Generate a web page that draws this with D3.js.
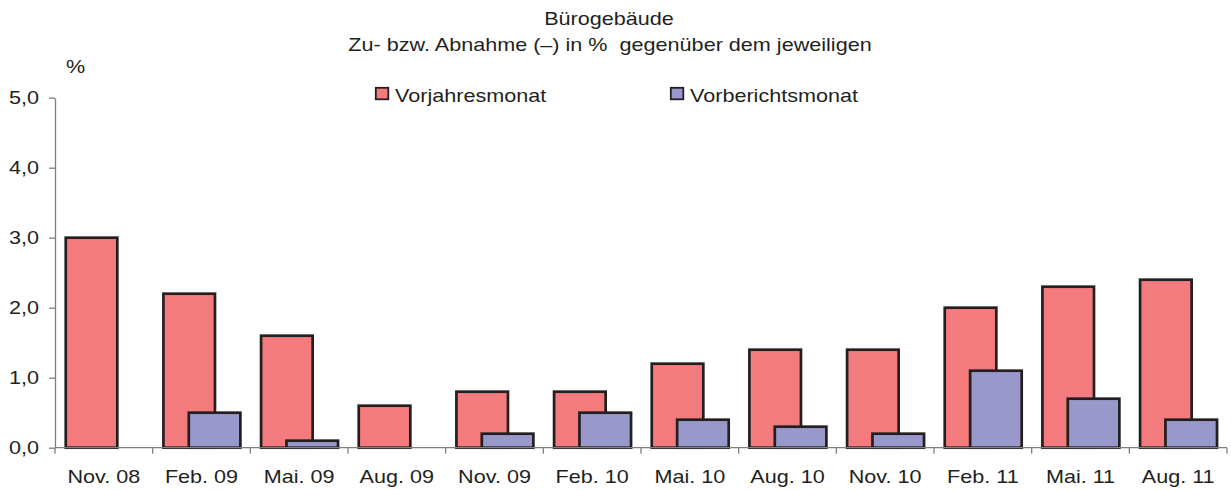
<!DOCTYPE html>
<html>
<head>
<meta charset="utf-8">
<script src="https://cdn.jsdelivr.net/npm/d3@7"></script>
<style>
  body { margin: 0; background: #fff; }
  text { font-family: "Liberation Sans", Arial, sans-serif; fill: #231f20; }
</style>
</head>
<body>
<div id="chart"></div>
<script>
// Werte
const categories = ["Nov. 08", "Feb. 09", "Mai. 09", "Aug. 09", "Nov. 09", "Feb. 10",
                    "Mai. 10", "Aug. 10", "Nov. 10", "Feb. 11", "Mai. 11", "Aug. 11"];
const vorjahresmonat = [3.0, 2.2, 1.6, 0.6, 0.8, 0.8, 1.2, 1.4, 1.4, 2.0, 2.3, 2.4];
const vorberichtsmonat = [null, 0.5, 0.1, null, 0.2, 0.5, 0.4, 0.3, 0.2, 1.1, 0.7, 0.4];
const yTicks = [0, 1, 2, 3, 4, 5];
const seriesNames = ["Vorjahresmonat", "Vorberichtsmonat"];
const seriesColors = ["#f37b7e", "#9998ca"];

const width = 1231, height = 490;
const sx = 1.2; // Schrift ist im Original horizontal gestreckt
const fs = "18px";

const svg = d3.select("#chart")
    .append("svg")
    .attr("width", width)
    .attr("height", height);

const x = d3.scaleBand()
    .domain(categories)
    .range([55, 1227]);

const y = d3.scaleLinear()
    .domain([0, 5])
    .range([447.7, 97.7]);

const bw = x.bandwidth();
const barW = bw * 0.528;

// Titel
svg.append("text")
    .attr("transform", `translate(609,25) scale(${sx},1)`)
    .attr("text-anchor", "middle")
    .style("font-size", fs)
    .text("Bürogebäude");

svg.append("text")
    .attr("transform", `translate(610,51) scale(${sx},1)`)
    .attr("text-anchor", "middle")
    .style("font-size", fs)
    .style("white-space", "pre")
    .text("Zu- bzw. Abnahme (–) in %  gegenüber dem jeweiligen");

svg.append("text")
    .attr("transform", `translate(66,73) scale(${sx},1)`)
    .style("font-size", fs)
    .text("%");

// Legende
const legendX = [375, 670];
const legend = svg.append("g")
    .selectAll("g")
    .data(seriesNames)
    .enter()
    .append("g")
    .attr("transform", (d, i) => `translate(${legendX[i]},87)`);

legend.append("rect")
    .attr("x", 0.8)
    .attr("y", 0.8)
    .attr("width", 12.5)
    .attr("height", 11.5)
    .attr("fill", (d, i) => seriesColors[i])
    .attr("stroke", "#231f20")
    .attr("stroke-width", 1.8);

legend.append("text")
    .attr("transform", `translate(20,14.5) scale(${sx},1)`)
    .style("font-size", fs)
    .text(d => d);

// Balken
const bars = svg.append("g");

bars.selectAll("rect.vj")
    .data(categories.map((c, i) => ({ c, v: vorjahresmonat[i] })).filter(d => d.v != null))
    .enter()
    .append("rect")
    .attr("class", "vj")
    .attr("x", d => x(d.c) + bw * 0.11)
    .attr("y", d => y(d.v))
    .attr("width", barW)
    .attr("height", d => y(0) - y(d.v))
    .attr("fill", seriesColors[0])
    .attr("stroke", "#231f20")
    .attr("stroke-width", 2.7);

bars.selectAll("rect.vb")
    .data(categories.map((c, i) => ({ c, v: vorberichtsmonat[i] })).filter(d => d.v != null))
    .enter()
    .append("rect")
    .attr("class", "vb")
    .attr("x", d => x(d.c) + bw * 0.37)
    .attr("y", d => y(d.v))
    .attr("width", barW)
    .attr("height", d => y(0) - y(d.v))
    .attr("fill", seriesColors[1])
    .attr("stroke", "#231f20")
    .attr("stroke-width", 2.7);

// y-Achse
const yAxis = svg.append("g")
    .attr("transform", "translate(55,0)")
    .call(d3.axisLeft(y)
        .tickValues(yTicks)
        .tickSize(6)
        .tickSizeOuter(0)
        .tickFormat(d => d3.format(".1f")(d).replace(".", ",")));

yAxis.select(".domain").attr("stroke", "#808080").attr("stroke-width", 1.3);
yAxis.selectAll(".tick line").attr("stroke", "#808080").attr("stroke-width", 1.3);
yAxis.selectAll(".tick text")
    .attr("x", 0)
    .attr("dy", "0.33em")
    .attr("transform", `translate(-16,0) scale(${sx},1)`)
    .style("font-size", fs)
    .style("font-family", "'Liberation Sans', Arial, sans-serif")
    .attr("fill", "#231f20");

// x-Achse
const xAxis = svg.append("g")
    .attr("transform", `translate(0,${y(0)})`)
    .call(d3.axisBottom(x).tickSize(0).tickSizeOuter(0));

xAxis.select(".domain").remove();
xAxis.selectAll(".tick text")
    .attr("y", 35.5)
    .attr("dy", 0)
    .attr("transform", `scale(${sx},1)`)
    .style("font-size", fs)
    .style("font-family", "'Liberation Sans', Arial, sans-serif")
    .attr("fill", "#231f20");

xAxis.append("line")
    .attr("x1", x.range()[0])
    .attr("x2", x.range()[1])
    .attr("stroke", "#808080")
    .attr("stroke-width", 1.3);

const edges = categories.map(c => x(c)).concat([x.range()[1]]);
xAxis.selectAll("line.edge")
    .data(edges)
    .enter()
    .append("line")
    .attr("class", "edge")
    .attr("x1", d => d)
    .attr("x2", d => d)
    .attr("y1", 0)
    .attr("y2", 6)
    .attr("stroke", "#808080")
    .attr("stroke-width", 1.3);
</script>
</body>
</html>
